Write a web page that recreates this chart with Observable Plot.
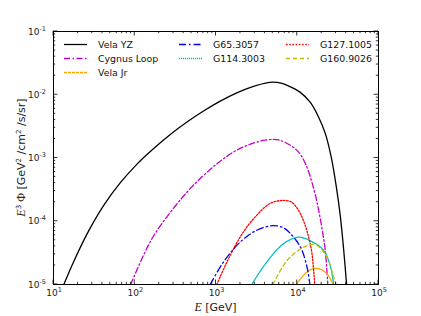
<!DOCTYPE html>
<html><head><meta charset="utf-8">
<script src="https://cdn.jsdelivr.net/npm/d3@7"></script>
<script src="https://cdn.jsdelivr.net/npm/@observablehq/plot@0.6"></script>
<style>
html,body{margin:0;padding:0;background:#fff;}
#chart{position:relative;width:421px;height:316px;}
svg{font-family:"DejaVu Sans",sans-serif;}
</style></head><body><div id="chart"></div>
<script>
// ---- data (E in GeV, E^3 Phi in GeV^2/cm^2/s/sr) ----
const seriesNames = ["Vela YZ","Cygnus Loop","Vela Jr","G65.3057","G114.3003","G127.1005","G160.9026"];
const E_velaYZ = [13.4,17.7,25.9,41.5,66.5,106,171,274,439,702,1127,1803,2891,4207,5012,6310,7500,10910,14490,18160,22130,26240,30200,33810,37330,40460];
const F_velaYZ = [1.0e-5,2.29e-5,6.31e-5,1.78e-4,4.07e-4,7.94e-4,1.41e-3,2.35e-3,3.70e-3,5.53e-3,7.94e-3,1.074e-2,1.36e-2,1.545e-2,1.58e-2,1.53e-2,1.41e-2,1.09e-2,7.55e-3,4.54e-3,2.45e-3,1.02e-3,3.56e-4,1.24e-4,3.47e-5,1.0e-5];
const E_cygnus = [89.1,129,171,274,439,702,1127,1803,2891,3981,5129,5890,7145,9954,12590,15920,18160,20320,22130,23770];
const F_cygnus = [1.0e-5,2.95e-5,5.9e-5,1.38e-4,2.88e-4,5.3e-4,8.9e-4,1.33e-3,1.72e-3,1.91e-3,1.97e-3,1.93e-3,1.76e-3,1.32e-3,8.2e-4,3.31e-4,1.6e-4,7.2e-5,3.47e-5,1.0e-5];
const E_velaJr = [9770,13180,17500,23230,27540];
const F_velaJr = [1.0e-5,1.58e-5,1.8e-5,1.48e-5,1.0e-5];
const E_g65 = [849,1236,1982,3170,5012,6761,8222,10960,13180,14290];
const F_g65 = [1.0e-5,2.26e-5,4.68e-5,7.2e-5,8.5e-5,7.9e-5,6.4e-5,3.9e-5,1.9e-5,1.0e-5];
const E_g114 = [2754,4207,6761,10470,15850,21130,25700,28000];
const F_g114 = [1.0e-5,2.26e-5,4.4e-5,5.6e-5,4.6e-5,3.47e-5,1.9e-5,1.0e-5];
const E_g127 = [1023,1493,2178,3170,4634,6761,8511,10000,12020,13800,15140,16400];
const F_g127 = [1.0e-5,2.88e-5,6.8e-5,1.24e-4,1.91e-4,2.14e-4,2.0e-4,1.6e-4,1.0e-4,5.6e-5,3.16e-5,1.0e-5];
const E_g160 = [5012,7500,12020,16600,23230,28000,30200];
const F_g160 = [1.0e-5,2.4e-5,3.9e-5,4.3e-5,2.7e-5,1.32e-5,1.0e-5];
const xTicks = [1e1,1e2,1e3,1e4,1e5];
const xTickExp = ["1","2","3","4","5"];
const yTicks = [1e-5,1e-4,1e-3,1e-2,1e-1];
const yTickExp = ["-5","-4","-3","-2","-1"];

const allE = [E_velaYZ,E_cygnus,E_velaJr,E_g65,E_g114,E_g127,E_g160];
const allF = [F_velaYZ,F_cygnus,F_velaJr,F_g65,F_g114,F_g127,F_g160];
const styles = {
  "Vela YZ":{stroke:"#000000",dash:null},
  "Cygnus Loop":{stroke:"#c000c8",dash:"6,2.5,1.5,2.5"},
  "Vela Jr":{stroke:"#ffa500",dash:"3,1"},
  "G65.3057":{stroke:"#0000ff",dash:"7,3,1.5,3"},
  "G114.3003":{stroke:"#00bfbf",dash:"1.2,0.8"},
  "G127.1005":{stroke:"#ff0000",dash:"1.6,1.6"},
  "G160.9026":{stroke:"#bfbf00",dash:"4,3"}
};
const rows = [];
seriesNames.forEach((n,i)=>allE[i].forEach((e,j)=>rows.push({name:n,E:e,F:allF[i][j]})));

const marks = seriesNames.map(n => Plot.line(rows.filter(r=>r.name===n), {
  x:"E", y:"F", stroke: styles[n].stroke, strokeWidth: 1.3,
  strokeDasharray: styles[n].dash ?? undefined, curve:"catmull-rom", clip:true
}));
marks.push(Plot.frame({stroke:"black", strokeWidth:1}));

const plot = Plot.plot({
  width:421, height:316, marginLeft:53, marginRight:43, marginTop:31, marginBottom:32,
  style:{background:"white", fontFamily:"DejaVu Sans"},
  x:{type:"log", domain:[10,1e5], axis:null},
  y:{type:"log", domain:[1e-5,1e-1], axis:null},
  marks
});
document.getElementById("chart").appendChild(plot);

const sx = plot.scale("x"), sy = plot.scale("y");
const svg = d3.select(plot);
const X0 = sx.apply(10), X1 = sx.apply(1e5), Y0 = sy.apply(1e-5), Y1 = sy.apply(1e-1);
const g = svg.append("g").attr("stroke","black").attr("stroke-width",0.8);
// ticks, inward, all four sides
for (let d=1; d<=4; d++) for (let m=1; m<=10; m++) {
  const v = Math.pow(10,d)*m; if (m===10 && d<4) continue;
  const x = sx.apply(v), L = (m===1||m===10)?4.5:2.2;
  g.append("line").attr("x1",x).attr("x2",x).attr("y1",Y0).attr("y2",Y0-L);
  g.append("line").attr("x1",x).attr("x2",x).attr("y1",Y1).attr("y2",Y1+L);
}
for (let d=-5; d<=-2; d++) for (let m=1; m<=10; m++) {
  const v = Math.pow(10,d)*m; if (m===10 && d<-2) continue;
  const y = sy.apply(v), L = (m===1||m===10)?4.5:2.2;
  g.append("line").attr("y1",y).attr("y2",y).attr("x1",X0).attr("x2",X0+L);
  g.append("line").attr("y1",y).attr("y2",y).attr("x1",X1).attr("x2",X1-L);
}
const lab = svg.append("g").attr("font-size",9).attr("fill","#222").attr("font-family","DejaVu Sans");
xTicks.forEach((v,i)=>{
  const t = lab.append("text").attr("x",sx.apply(v)+1).attr("y",Y0+12).attr("text-anchor","middle");
  t.append("tspan").text("10");
  t.append("tspan").attr("dy",-4).attr("font-size",6.5).text(xTickExp[i]);
});
yTicks.forEach((v,i)=>{
  const t = lab.append("text").attr("x",X0-7).attr("y",sy.apply(v)+3.5).attr("text-anchor","end");
  t.append("tspan").text("10");
  t.append("tspan").attr("dy",-4).attr("font-size",6.5).text(yTickExp[i]);
});
// axis labels
const xl = lab.append("text").attr("x",(X0+X1)/2).attr("y",311).attr("text-anchor","middle").attr("font-size",11);
xl.append("tspan").attr("font-family","Liberation Serif").attr("font-style","italic").attr("font-size",12).text("E");
xl.append("tspan").text(" [GeV]");
const yl = lab.append("text").attr("transform",`translate(25,${(Y0+Y1)/2}) rotate(-90)`).attr("text-anchor","middle").attr("font-size",11);
yl.append("tspan").attr("font-family","Liberation Serif").attr("font-style","italic").attr("font-size",12).text("E");
yl.append("tspan").attr("dy",-4).attr("font-size",7).text("3");
yl.append("tspan").attr("dy",4).attr("font-family","Liberation Serif").attr("font-size",12).text(" Φ");
yl.append("tspan").text(" [GeV");
yl.append("tspan").attr("dy",-4).attr("font-size",7).text("2");
yl.append("tspan").attr("dy",4).text(" /cm");
yl.append("tspan").attr("dy",-4).attr("font-size",7).text("2");
yl.append("tspan").attr("dy",4).text(" /s/sr]");
// legend (3 columns, column-major)
const legendCols = [[0,1,2],[3,4],[5,6]];
const colX = [X0+11, X0+126, X0+233];
const rowY = [44.5, 58.5, 72.5];
const lg = svg.append("g").attr("font-family","DejaVu Sans");
legendCols.forEach((col,ci)=>col.forEach((si,ri)=>{
  const n = seriesNames[si], st = styles[n];
  lg.append("line").attr("x1",colX[ci]).attr("x2",colX[ci]+23).attr("y1",rowY[ri]).attr("y2",rowY[ri])
    .attr("stroke",st.stroke).attr("stroke-width",1.3).attr("stroke-dasharray",st.dash);
  lg.append("text").attr("x",colX[ci]+34).attr("y",rowY[ri]+3.4).attr("font-size",9.4)
    .attr("text-anchor","start").attr("fill","#111").text(n);
}));
</script></body></html>
